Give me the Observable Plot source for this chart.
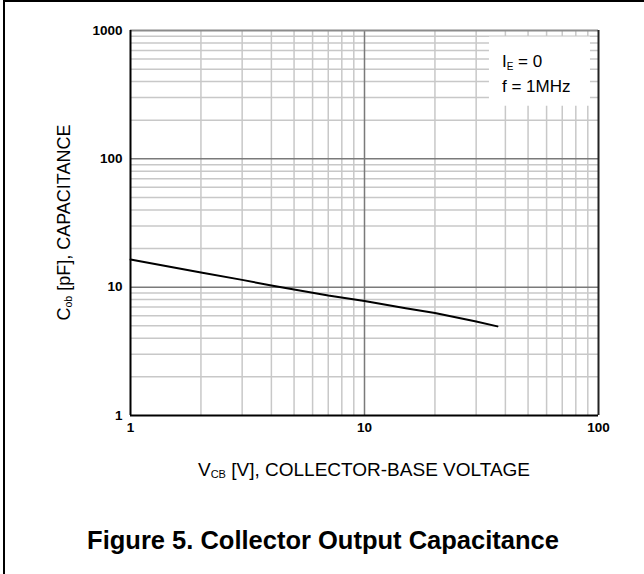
<!DOCTYPE html>
<html>
<head>
<meta charset="utf-8">
<script src="https://cdn.jsdelivr.net/npm/d3@7"></script>
<script src="https://cdn.jsdelivr.net/npm/@observablehq/plot@0.6"></script>
<style>
  html, body { margin: 0; padding: 0; background: #fff; }
  #chart { position: relative; width: 644px; height: 574px; }
</style>
</head>
<body>
<div id="chart"></div>
<script>
// ---- data ----
const vcb = [1, 2, 3, 4, 5, 7, 10, 15, 20, 30, 37];
const cob = [16.4, 13.0, 11.4, 10.3, 9.6, 8.6, 7.8, 6.85, 6.3, 5.4, 4.95];
const xTicks = [1, 10, 100];
const yTicks = [1, 10, 100, 1000];
const xMinor = [2, 3, 4, 5, 6, 7, 8, 9, 20, 30, 40, 50, 60, 70, 80, 90];
const yMinor = [2, 3, 4, 5, 6, 7, 8, 9, 20, 30, 40, 50, 60, 70, 80, 90, 200, 300, 400, 500, 600, 700, 800, 900];
const legendBox = [{x1: 34.2, x2: 92.4, y1: 257, y2: 889}];

const FONT = "'Liberation Sans', Arial, Helvetica, sans-serif";
const series = vcb.map((v, i) => ({v, c: cob[i]}));

const plot = Plot.plot({
  width: 644,
  height: 574,
  marginLeft: 130,
  marginRight: 46,
  marginTop: 30,
  marginBottom: 159,
  style: {fontFamily: FONT, fontSize: "13.5px", fontWeight: "bold", color: "#000", background: "#fff"},
  x: {type: "log", domain: [1, 100], axis: null},
  y: {type: "log", domain: [1, 1000], axis: null},
  marks: [
    Plot.ruleX(xMinor, {stroke: "#c8c8c8", strokeWidth: 1.5}),
    Plot.ruleY(yMinor, {stroke: "#c8c8c8", strokeWidth: 1.5}),
    Plot.ruleX([10], {stroke: "#7a7a7a", strokeWidth: 1.5}),
    Plot.ruleY([10, 100], {stroke: "#7a7a7a", strokeWidth: 1.5}),
    Plot.rect(legendBox, {x1: "x1", x2: "x2", y1: "y1", y2: "y2", fill: "white"}),
    Plot.ruleY([1000], {stroke: "#8c8c8c", strokeWidth: 2}),
    Plot.ruleX([100], {stroke: "#222", strokeWidth: 2}),
    Plot.ruleX([1], {stroke: "#000", strokeWidth: 2}),
    Plot.ruleY([1], {stroke: "#000", strokeWidth: 2}),
    Plot.line(series, {x: "v", y: "c", stroke: "#000", strokeWidth: 2}),
    Plot.axisX(xTicks, {tickSize: 0, tickPadding: 7, tickFormat: d => String(d), fontWeight: "bold", fontSize: 13.5}),
    Plot.axisY(yTicks, {tickSize: 0, tickPadding: 8, tickFormat: d => String(d), fontWeight: "bold", fontSize: 13.5})
  ]
});

document.getElementById("chart").appendChild(plot);

const svg = d3.select(plot);
const xs = plot.scale("x"), ys = plot.scale("y");

// outer page frame (left and top)
svg.append("line").attr("x1", 4).attr("x2", 4).attr("y1", 0).attr("y2", 574)
  .attr("stroke", "#000").attr("stroke-width", 2);
svg.append("line").attr("x1", 3).attr("x2", 644).attr("y1", 1).attr("y2", 1)
  .attr("stroke", "#000").attr("stroke-width", 2);

// legend text
const lx = xs.apply(34.2) + 13;
const leg1 = svg.append("text").attr("x", lx).attr("y", 67).attr("text-anchor", "start")
  .attr("font-family", FONT).attr("font-size", 17).attr("font-weight", "normal").attr("fill", "#000");
leg1.append("tspan").text("I");
leg1.append("tspan").attr("font-size", 10).attr("dy", 3).text("E");
leg1.append("tspan").attr("dy", -3).text(" = 0");
svg.append("text").attr("x", lx).attr("y", 92).attr("text-anchor", "start")
  .attr("font-family", FONT).attr("font-size", 17).attr("font-weight", "normal").attr("fill", "#000")
  .text("f = 1MHz");

// x axis label
const xc = (xs.apply(1) + xs.apply(100)) / 2;
const xl = svg.append("text").attr("x", xc).attr("y", 476).attr("text-anchor", "middle")
  .attr("font-family", FONT).attr("font-size", 19).attr("font-weight", "normal").attr("fill", "#000");
xl.append("tspan").text("V");
xl.append("tspan").attr("font-size", 11).attr("dy", 2).text("CB");
xl.append("tspan").attr("dy", -2).text(" [V], COLLECTOR-BASE VOLTAGE");

// y axis label
const yc = (ys.apply(1) + ys.apply(1000)) / 2;
const yl = svg.append("text").attr("transform", `translate(70,${yc}) rotate(-90)`).attr("text-anchor", "middle")
  .attr("font-family", FONT).attr("font-size", 18).attr("font-weight", "normal").attr("fill", "#000");
yl.append("tspan").text("C");
yl.append("tspan").attr("font-size", 10.5).attr("dy", 2).text("ob");
yl.append("tspan").attr("dy", -2).text(" [pF], CAPACITANCE");

// caption
svg.append("text").attr("x", 323).attr("y", 549).attr("text-anchor", "middle")
  .attr("font-family", FONT).attr("font-size", 25.5).attr("font-weight", "bold").attr("fill", "#000")
  .text("Figure 5. Collector Output Capacitance");
</script>
</body>
</html>
